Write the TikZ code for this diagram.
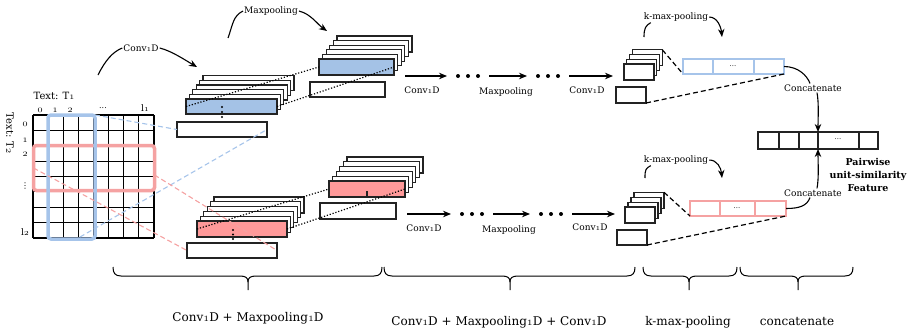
\documentclass[tikz,border=0pt]{standalone}
\usepackage{fontspec}
\setmainfont{DejaVu Serif}
\newfontfamily\symfont{DejaVu Sans}
\usetikzlibrary{arrows.meta}

% old-style figures taken from the math italic font
\newcommand{\oldnum}[1]{{\usefont{OML}{cmm}{m}{it}#1}}

\definecolor{bluefill}{RGB}{164,194,230}
\definecolor{blueline}{RGB}{166,196,234}
\definecolor{pinkfill}{RGB}{255,153,153}
\definecolor{pinkline}{RGB}{245,162,162}
\definecolor{edge}{RGB}{35,35,35}

% a stack of feature maps: name, x, y, width, height, dx, dy, back layers, front fill
\newcommand{\featstack}[9]{%
  \foreach \k in {#8,...,1}{%
    \node[layerbox, minimum width=#4pt, minimum height=#5pt] (#1-\k) at ({#2+\k*(#6)},{#3+\k*(#7)}) {};
  }%
  \node[layerbox, fill=#9, minimum width=#4pt, minimum height=#5pt] (#1) at (#2,#3) {};
}

% underbrace: left end, tip, right end
\newcommand{\bottombrace}[3]{%
  \draw[bracepen] (#1,267) .. controls (#1,273) and ({#1+2},276) .. ({#1+8},276) -- ({#2-8},276)
     .. controls ({#2-2},276) and (#2,278) .. (#2,282) -- (#2,290);
  \draw[bracepen] (#3,267) .. controls (#3,273) and ({#3-2},276) .. ({#3-8},276) -- ({#2+8},276)
     .. controls ({#2+2},276) and (#2,278) .. (#2,282);
}

\begin{document}
\begin{tikzpicture}[x=1pt,y=-1pt,
  layerbox/.style={draw=edge, line width=1.1pt, fill=white, inner sep=0pt, outer sep=0pt, anchor=north west},
  rowbox/.style={line width=1.2pt, inner sep=0pt, outer sep=0pt, anchor=north west},
  gridpen/.style={line width=1.2pt, black},
  arr/.style={line width=1.1pt, -{Stealth[length=8pt,width=6.5pt]}},
  curvepen/.style={line width=1.1pt},
  lbl/.style={font=\fontsize{9}{11}\selectfont, inner sep=1pt},
  gridlbl/.style={font=\fontsize{10}{11}\selectfont, inner sep=0pt},
  biglbl/.style={font=\fontsize{12}{14}\selectfont, inner sep=0pt},
  dotline/.style={line width=1.2pt, dash pattern=on 1.2pt off 1.8pt},
  bluedash/.style={line width=1.1pt, draw=blueline, dash pattern=on 5pt off 3pt},
  pinkdash/.style={line width=1.1pt, draw=pinkline, dash pattern=on 5pt off 3pt},
  blackdash/.style={line width=1.2pt, dash pattern=on 5pt off 3pt},
  bracepen/.style={line width=1pt},
  dotgroup/.style={minimum width=42pt, minimum height=6pt, inner sep=0pt, outer sep=0pt,
    path picture={\foreach \dx in {-10,0,10}{\fill ([xshift=\dx pt]path picture bounding box.center) circle (2pt);}}}
]
\useasboundingbox (0,0) rectangle (916,332);

% ---------- similarity matrix ----------
\foreach \i in {0,...,8} \draw[gridpen] ({33+\i*15.125},115) -- ({33+\i*15.125},238);
\foreach \j in {0,...,8} \draw[gridpen] (33,{115+\j*15.375}) -- (154,{115+\j*15.375});

\node[font=\fontsize{10}{12}\selectfont, inner sep=0pt] (t1) at (54,96) {Text: T\oldnum{1}};
\node[font=\fontsize{10}{12}\selectfont, inner sep=0pt, rotate=-90] (t2) at (10,133) {Text: T\oldnum{2}};

\node[gridlbl] (c0) at (40,110) {\oldnum{0}};
\node[gridlbl] (c1) at (55,110) {\oldnum{1}};
\node[gridlbl] (c2) at (70,110) {\oldnum{2}};
\node[gridlbl, font=\fontsize{8}{9}\selectfont] (cd) at (103,108) {...};
\node[gridlbl, font=\fontsize{9}{10}\selectfont] (cl) at (145,108) {l\oldnum{1}};
\node[gridlbl] (r0) at (25,124) {\oldnum{0}};
\node[gridlbl] (r1) at (25,140) {\oldnum{1}};
\node[gridlbl] (r2) at (25,154) {\oldnum{2}};
\node[gridlbl, font=\symfont\fontsize{8}{9}\selectfont] (rd) at (25,186) {⋮};
\node[gridlbl, font=\fontsize{9}{10}\selectfont] (rl) at (25,232) {l\oldnum{2}};

\node[rowbox, draw=pinkline, line width=3.5pt, rounded corners=3pt, minimum width=121pt, minimum height=45pt] (selrow) at (33.5,145.5) {};
\node[rowbox, draw=blueline, line width=3.5pt, rounded corners=3pt, minimum width=47pt, minimum height=124pt] (selcol) at (48,115) {};
\coordinate (colfoot) at (80,237);

% ---------- first convolution stacks ----------
\featstack{ua}{186}{99}{91}{15}{3.4}{-4.67}{5}{bluefill}
\node[layerbox, minimum width=90pt, minimum height=15pt] (uaw) at (177,122) {};
\foreach \yy in {107,112,117} \fill (222,\yy) circle (1.2pt);

\featstack{la}{197}{221}{90}{16}{3.4}{-4.8}{5}{pinkfill}
\node[layerbox, minimum width=90pt, minimum height=15pt] (law) at (187,243) {};
\foreach \yy in {230,234.5,239} \fill (233,\yy) circle (1.2pt);

% ---------- max-pooled stacks ----------
\featstack{ub}{319}{59}{75}{16}{3.6}{-4.6}{5}{bluefill}
\node[layerbox, minimum width=75pt, minimum height=15pt] (ubw) at (310,82) {};

\featstack{lb}{329}{181}{76}{16}{3.6}{-4.8}{5}{pinkfill}
\node[layerbox, minimum width=76pt, minimum height=16pt] (lbw) at (320,203) {};
\draw[line width=1.1pt, edge] (367,191) -- (367,197);

% dotted links between stacks
\draw[dotline] (ua.west) -- (ub.west);
\draw[dotline] (ua.east) -- (ub.east);
\draw[dotline] (la.west) -- (lb.west);
\draw[dotline] (la.east) -- (lb.east);

% dashed links from the matrix selections
\draw[bluedash] (selcol.north east) -- (uaw.west);
\draw[bluedash] (colfoot) -- (uaw.east);
\draw[pinkdash] (selrow.west) -- (law.west);
\draw[pinkdash] ([yshift=-7pt]selrow.east) -- (law.east);

% ---------- curved operation labels ----------
\node[lbl] (tconv) at (141,48) {Conv\oldnum{1}D};
\coordinate (tconvs) at (98,75);
\coordinate (tconve) at (197,67);
\draw[curvepen] (tconvs) .. controls +(7,-14) and +(-10,4) .. (tconv.west);
\draw[arr] (tconv.east) .. controls +(12,3) and +(-12,-7) .. (tconve);

\node[lbl] (tmp) at (271,11) {Maxpooling};
\coordinate (tmps) at (228,38);
\coordinate (tmpe) at (327,31);
\draw[curvepen] (tmps) .. controls +(5,-14) and +(-10,5) .. (tmp.west);
\draw[arr] (tmp.east) .. controls +(12,3) and +(-10,-7) .. (tmpe);

% ---------- convolution / pooling chains ----------
\coordinate (cu0) at (405,76);
\node[dotgroup] (du1) at (468,76) {};
\node[dotgroup] (du2) at (548,76) {};
\coordinate (cu3) at (613,76);
\draw[arr] (cu0) -- (du1.west);
\draw[arr] (du1.east) -- (du2.west);
\draw[arr] (du2.east) -- (cu3);
\node[lbl] (lu1) at (422,90) {Conv\oldnum{1}D};
\node[lbl] (lu2) at (506,92) {Maxpooling};
\node[lbl] (lu3) at (587,90) {Conv\oldnum{1}D};

\coordinate (cl0) at (407,214);
\node[dotgroup] (dl1) at (472,214) {};
\node[dotgroup] (dl2) at (551,214) {};
\coordinate (cl3) at (615,214);
\draw[arr] (cl0) -- (dl1.west);
\draw[arr] (dl1.east) -- (dl2.west);
\draw[arr] (dl2.east) -- (cl3);
\node[lbl] (ll1) at (424,228) {Conv\oldnum{1}D};
\node[lbl] (ll2) at (509,230) {Maxpooling};
\node[lbl] (ll3) at (590,227) {Conv\oldnum{1}D};

% ---------- last convolution stacks and k-max rows ----------
\featstack{ue}{624}{64}{30}{16}{2.8}{-4.7}{3}{white}
\node[layerbox, minimum width=30pt, minimum height=16pt] (uew) at (616,87) {};
\featstack{le}{625}{207}{30}{16}{3}{-4.9}{3}{white}
\node[layerbox, minimum width=30pt, minimum height=15pt] (lew) at (617,230) {};

\node[rowbox, draw=blueline, minimum width=101pt, minimum height=15pt] (rowu) at (683,59) {};
\draw[blueline, line width=1.2pt] (713,59) -- (713,74) (754,59) -- (754,74);
\node[font=\fontsize{7}{8}\selectfont, inner sep=0pt] (rud) at (733,66) {...};

\node[rowbox, draw=pinkline, minimum width=96pt, minimum height=15pt] (rowl) at (690,201) {};
\draw[pinkline, line width=1.2pt] (720,201) -- (720,216) (755,201) -- (755,216);
\node[font=\fontsize{7}{8}\selectfont, inner sep=0pt] (rld) at (737,208) {...};

\draw[blackdash] (ue-3.north east) -- (rowu.south west);
\draw[blackdash] (uew.south east) -- (rowu.south east);
\draw[blackdash] (le-3.north east) -- (rowl.south west);
\draw[blackdash] (lew.south east) -- (rowl.south east);

\node[lbl] (kmu) at (676,17) {k-max-pooling};
\coordinate (kmus) at (644,37);
\coordinate (kmue) at (722,37);
\draw[curvepen] (kmus) .. controls +(0,-9) and +(-5,3) .. ([xshift=8pt]kmu.south west);
\draw[arr] (kmu.east) .. controls +(8,0) and +(-1,-10) .. (kmue);

\node[lbl] (kml) at (676,160) {k-max-pooling};
\coordinate (kmls) at (645,178);
\coordinate (kmle) at (722,178);
\draw[curvepen] (kmls) .. controls +(0,-9) and +(-5,3) .. ([xshift=8pt]kml.south west);
\draw[arr] (kml.east) .. controls +(8,0) and +(-1,-10) .. (kmle);

% ---------- concatenated feature ----------
\node[rowbox, draw=edge, minimum width=120pt, minimum height=17pt] (feat) at (758,132) {};
\draw[edge, line width=1.2pt] (779,132) -- (779,149) (799,132) -- (799,149) (818,132) -- (818,149) (859,132) -- (859,149);
\node[font=\fontsize{7}{8}\selectfont, inner sep=0pt] (fd) at (838,139) {...};
\node[align=center, font=\bfseries\fontsize{9.5}{13}\selectfont, inner sep=0pt] (feattxt) at (868,175) {Pairwise\\unit-similarity\\Feature};

\node[lbl] (ccu) at (813,88) {Concatenate};
\draw[curvepen] (rowu.east) .. controls +(14,0) and +(-3,-8) .. ([xshift=-3pt]ccu.north);
\draw[arr] ([xshift=4pt]ccu.south) .. controls +(2,10) and +(0,-12) .. (feat.north);

\node[lbl] (ccl) at (813,193) {Concatenate};
\draw[curvepen] (rowl.east) .. controls +(14,0) and +(-3,8) .. ([xshift=-3pt]ccl.south);
\draw[arr] ([xshift=4pt]ccl.north) .. controls +(2,-10) and +(0,12) .. (feat.south);

% ---------- stage braces ----------
\bottombrace{113}{248}{382}
\bottombrace{384}{510}{635}
\bottombrace{643}{689}{737}
\bottombrace{740}{798}{853}
\node[biglbl] (s1) at (248,318) {Conv\oldnum{1}D + Maxpooling\oldnum{1}D};
\node[biglbl] (s2) at (499,322) {Conv\oldnum{1}D + Maxpooling\oldnum{1}D + Conv\oldnum{1}D};
\node[biglbl] (s3) at (688,322) {k-max-pooling};
\node[biglbl] (s4) at (797,322) {concatenate};
\end{tikzpicture}
\end{document}
